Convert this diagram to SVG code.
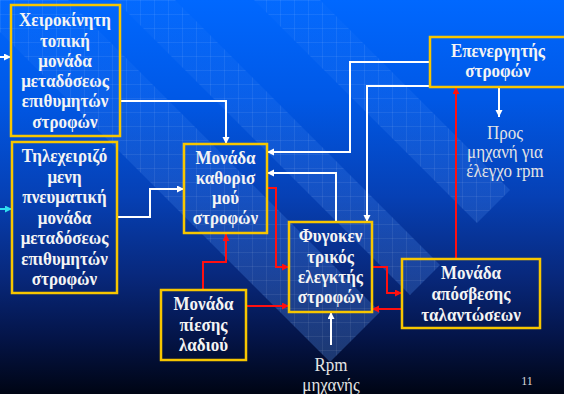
<svg xmlns="http://www.w3.org/2000/svg" width="564" height="394" viewBox="0 0 564 394">
<defs>
<linearGradient id="bg" x1="0" y1="0" x2="0" y2="1">
<stop offset="0" stop-color="#0068ff"/>
<stop offset="0.25" stop-color="#0058e6"/>
<stop offset="0.5" stop-color="#0640b4"/>
<stop offset="0.7" stop-color="#08287c"/>
<stop offset="0.86" stop-color="#041447"/>
<stop offset="1" stop-color="#000514"/>
</linearGradient>
<linearGradient id="bandfill" gradientUnits="userSpaceOnUse" x1="0" y1="0" x2="0" y2="394">
<stop offset="0" stop-color="#5a9cff" stop-opacity="0.04"/>
<stop offset="0.4" stop-color="#5a9cff" stop-opacity="0.16"/>
<stop offset="1" stop-color="#5a9cff" stop-opacity="0.32"/>
</linearGradient>
<pattern id="grid" width="14" height="14" patternUnits="userSpaceOnUse">
<path d="M0,0.5 H14 M0.5,0 V14" stroke="#ffffff" stroke-opacity="0.07" stroke-width="1" fill="none"/>
</pattern>
<marker id="aw" markerUnits="userSpaceOnUse" markerWidth="8" markerHeight="8" refX="7" refY="3.5" orient="auto">
<path d="M0,0 L7,3.5 L0,7 z" fill="#ffffff"/>
</marker>
<marker id="ac" markerUnits="userSpaceOnUse" markerWidth="8" markerHeight="8" refX="7" refY="3.5" orient="auto">
<path d="M0,0 L7,3.5 L0,7 z" fill="#30e0f0"/>
</marker>
<marker id="ar" markerUnits="userSpaceOnUse" markerWidth="8" markerHeight="8" refX="7" refY="3.5" orient="auto">
<path d="M0,0 L7,3.5 L0,7 z" fill="#ff1010"/>
</marker>
<style>
.box{fill:none;stroke:#f7c600;stroke-width:2.5}
.b{font-family:"Liberation Serif","Times New Roman",serif;font-weight:bold;font-size:17px;fill:#f4f4f4;text-anchor:middle}
.t{font-family:"Liberation Serif","Times New Roman",serif;font-size:17px;fill:#e4e4e4;text-anchor:middle}
.w{fill:none;stroke:#ffffff;stroke-width:2;marker-end:url(#aw)}
.c{fill:none;stroke:#30e0f0;stroke-width:2;marker-end:url(#ac)}
.r{fill:none;stroke:#ff1010;stroke-width:2;marker-end:url(#ar)}
.band{fill:url(#bandfill)}
</style>
</defs>
<rect width="564" height="394" fill="url(#bg)"/>
<g id="background-bands">
<polygon class="band" points="-40,-8 330,362 380,312 68,0"/>
<polygon class="band" points="115,0 410,295 440,265 175,0"/>
<polygon class="band" points="254,0 477,223 510,190 320,0"/>
<polygon fill="url(#grid)" points="-40,-8 330,362 380,312 68,0"/>
<polygon fill="url(#grid)" points="115,0 410,295 440,265 175,0"/>
<polygon fill="url(#grid)" points="254,0 477,223 510,190 320,0"/>
</g>
<g id="connectors">
<path class="w" d="M0,57 H11"/>
<path class="c" d="M0,209 H12"/>
<path class="w" d="M120,101 H226 V144"/>
<path class="w" d="M117,217 H150 V189 H184"/>
<path class="w" d="M430,62 H350 V152 H267"/>
<path class="w" d="M430,86 H367 V222"/>
<path class="w" d="M336,222 V173 H267"/>
<path class="w" d="M499,87 V117"/>
<path class="w" d="M331,345 V312"/>
<path class="r" d="M267,188 H276 V267 H289"/>
<path class="r" d="M203,290 V262 H226 V234"/>
<path class="r" d="M246,306 H289"/>
<path class="r" d="M372,267 H387 V293 H402"/>
<path class="r" d="M402,309 H372"/>
<path class="r" d="M456,259 V87"/>
</g>
<g id="manual-local">
<rect class="box" x="11" y="5" width="109" height="131"/>
<text class="b" transform="translate(65,26) scale(1,1.1)">Χειροκίνητη</text>
<text class="b" transform="translate(65,46.5) scale(1,1.1)">τοπική</text>
<text class="b" transform="translate(65,67) scale(1,1.1)">μονάδα</text>
<text class="b" transform="translate(65,87) scale(1,1.1)">μεταδόσεως</text>
<text class="b" transform="translate(65,107) scale(1,1.1)">επιθυμητών</text>
<text class="b" transform="translate(65,127.5) scale(1,1.1)">στροφών</text>
</g>
<g id="remote-pneumatic">
<rect class="box" x="12" y="142" width="105" height="151"/>
<text class="b" transform="translate(64.5,162) scale(1,1.1)">Τηλεχειριζό</text>
<text class="b" transform="translate(64.5,182.5) scale(1,1.1)">μενη</text>
<text class="b" transform="translate(64.5,203) scale(1,1.1)">πνευματική</text>
<text class="b" transform="translate(64.5,223.5) scale(1,1.1)">μονάδα</text>
<text class="b" transform="translate(64.5,244) scale(1,1.1)">μεταδόσεως</text>
<text class="b" transform="translate(64.5,264.5) scale(1,1.1)">επιθυμητών</text>
<text class="b" transform="translate(64.5,285) scale(1,1.1)">στροφών</text>
</g>
<g id="speed-setting">
<rect class="box" x="184" y="144" width="83" height="89"/>
<text class="b" transform="translate(225.5,163.5) scale(1,1.1)">Μονάδα</text>
<text class="b" transform="translate(225.5,183.5) scale(1,1.1)">καθορισ</text>
<text class="b" transform="translate(225.5,203.5) scale(1,1.1)">μού</text>
<text class="b" transform="translate(225.5,223.5) scale(1,1.1)">στροφών</text>
</g>
<g id="actuator">
<rect class="box" x="430" y="37" width="136" height="50"/>
<text class="b" transform="translate(498,57) scale(1,1.1)">Επενεργητής</text>
<text class="b" transform="translate(498,77) scale(1,1.1)">στροφών</text>
</g>
<g id="to-engine">
<text class="t" transform="translate(505,139) scale(1,1.1)">Προς</text>
<text class="t" transform="translate(505,158) scale(1,1.1)">μηχανή για</text>
<text class="t" transform="translate(505,177) scale(1,1.1)">έλεγχο rpm</text>
</g>
<g id="centrifugal">
<rect class="box" x="289" y="222" width="83" height="90"/>
<text class="b" transform="translate(330.5,242) scale(1,1.1)">Φυγοκεν</text>
<text class="b" transform="translate(330.5,262.5) scale(1,1.1)">τρικός</text>
<text class="b" transform="translate(330.5,283) scale(1,1.1)">ελεγκτής</text>
<text class="b" transform="translate(330.5,303) scale(1,1.1)">στροφών</text>
</g>
<g id="oil-pressure">
<rect class="box" x="161" y="290" width="85" height="70"/>
<text class="b" transform="translate(203.5,310) scale(1,1.1)">Μονάδα</text>
<text class="b" transform="translate(203.5,330.5) scale(1,1.1)">πίεσης</text>
<text class="b" transform="translate(203.5,351) scale(1,1.1)">λαδιού</text>
</g>
<g id="damping">
<rect class="box" x="402" y="259" width="138" height="69"/>
<text class="b" transform="translate(471,279) scale(1,1.1)">Μονάδα</text>
<text class="b" transform="translate(471,300) scale(1,1.1)">απόσβεσης</text>
<text class="b" transform="translate(471,320.5) scale(1,1.1)">ταλαντώσεων</text>
</g>
<g id="rpm-input">
<text class="t" transform="translate(331,371) scale(1,1.1)">Rpm</text>
<text class="t" transform="translate(331,391) scale(1,1.1)">μηχανής</text>
</g>
<text x="527" y="385" font-family="Liberation Serif, serif" font-size="12" fill="#dddddd" text-anchor="middle">11</text>
</svg>
